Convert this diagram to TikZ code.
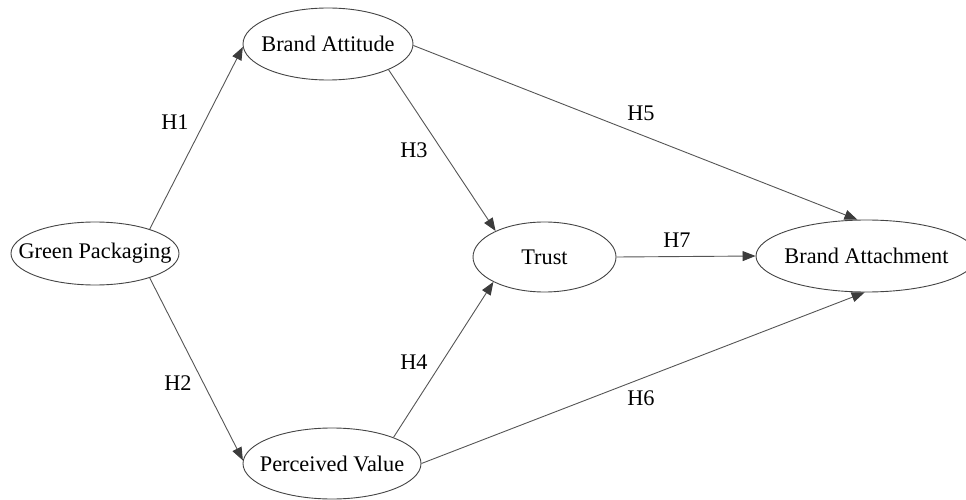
\documentclass[tikz,border=0pt]{standalone}
\usepackage{fontspec}
\setmainfont{Liberation Serif}
\usetikzlibrary{shapes.geometric,arrows.meta}
\definecolor{edgegray}{HTML}{555555}
\definecolor{tipgray}{HTML}{3C3C3C}
\definecolor{ringgray}{HTML}{444444}
\tikzset{
  ell/.style={ellipse, draw=ringgray, line width=0.9pt, inner sep=0pt, fill=white},
  lbl/.style={font=\fontsize{22.3}{26}\selectfont, text=black},
  conn/.style={draw=edgegray, line width=0.9pt, -{Triangle[length=13pt,width=10pt,fill=tipgray,color=tipgray]}},
  hyp/.style={font=\fontsize{22.3}{26}\selectfont, inner sep=0pt}
}
\begin{document}
\begin{tikzpicture}[x=1pt,y=-1pt]
\useasboundingbox (0,0) rectangle (966,500);
\begin{scope}
\clip (0,0) rectangle (966,500);
\node[ell, minimum width=168pt, minimum height=63pt, label={[lbl]center:Green Packaging}] (gp) at (95,253.5) {};
\node[ell, minimum width=170pt, minimum height=72pt, label={[lbl]center:Brand Attitude}] (ba) at (328,44) {};
\node[ell, minimum width=178pt, minimum height=71pt, label={[lbl]center:Perceived Value}] (pv) at (332,463.5) {};
\node[ell, minimum width=143pt, minimum height=70pt, label={[lbl]center:Trust}] (tr) at (544.5,257) {};
\node[ell, minimum width=221pt, minimum height=72pt, label={[lbl]center:Brand Attachment}] (bat) at (866.5,256) {};
\end{scope}

\draw[conn] (gp.24) -- (ba.182);
\draw[conn] (gp.336) -- (pv.178);
\draw[conn] (ba.337) -- (tr.152);
\draw[conn] (pv.23.5) -- (tr.206);
\draw[conn] (ba.359) -- (bat.104);
\draw[conn] (pv.east) -- (bat.267.6);
\draw[conn] (tr.east) -- (bat.west);

\node[hyp] (h1) at (175,122) {H1};
\node[hyp] (h2) at (178,383) {H2};
\node[hyp] (h3) at (414,150) {H3};
\node[hyp] (h4) at (414,362) {H4};
\node[hyp] (h5) at (641,113) {H5};
\node[hyp] (h6) at (641,398) {H6};
\node[hyp] (h7) at (677,240) {H7};
\end{tikzpicture}
\end{document}
